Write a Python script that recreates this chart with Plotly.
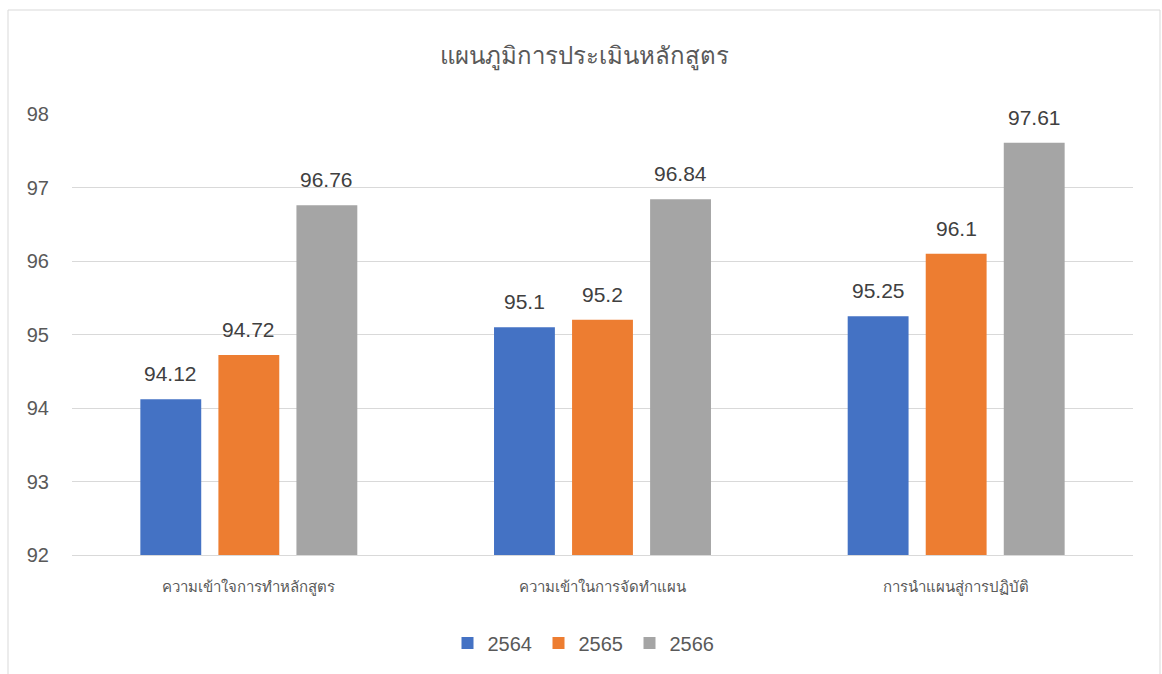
import plotly.graph_objects as go

title = "แผนภูมิการประเมินหลักสูตร"
categories = ["ความเข้าใจการทำหลักสูตร", "ความเข้าในการจัดทำแผน", "การนำแผนสู่การปฏิบัติ"]
series_names = ["2564", "2565", "2566"]
values_2564 = [94.12, 95.1, 95.25]
values_2565 = [94.72, 95.2, 96.1]
values_2566 = [96.76, 96.84, 97.61]
colors = ["#4472C4", "#ED7D31", "#A5A5A5"]
y_ticks = [92, 93, 94, 95, 96, 97, 98]

W, H = 1162, 674
ml, mr, mt, mb = 72, 29, 114, 119
pw, ph = W - ml - mr, H - mt - mb
slot_px = 78  # horizontal distance between bars inside a group

fig = go.Figure()
all_series = [values_2564, values_2565, values_2566]
for name, vals, col in zip(series_names, all_series, colors):
    fig.add_trace(go.Bar(
        x=categories, y=vals, name=name, marker_color=col,
        marker_line_width=0,
    ))

# data labels
for i, vals in enumerate(all_series):
    for cat, v in zip(categories, vals):
        fig.add_annotation(x=cat, y=v, text=str(v), showarrow=False,
                           xshift=(i - 1) * slot_px, yanchor="bottom", yshift=12,
                           font=dict(size=21, color="#404040", family="Liberation Sans, Arial"))

fig.add_shape(type="rect", xref="paper", yref="paper",
              x0=(8 - ml) / pw, x1=(1160 - ml) / pw,
              y0=(H - mb - 690) / ph, y1=(H - mb - 10) / ph,
              line=dict(color="#D9D9D9", width=1), fillcolor="rgba(0,0,0,0)", layer="below")

fig.update_layout(
    width=W, height=H,
    margin=dict(l=ml, r=mr, t=mt, b=mb),
    paper_bgcolor="white", plot_bgcolor="white",
    title=dict(text=title, x=(584 - ml) / pw, xref="paper", xanchor="center",
               y=(H - 56) / H, yanchor="middle",
               font=dict(size=24, color="#595959", family="Noto Sans, sans-serif")),
    barmode="group", bargap=0.338, bargroupgap=0.22,
    showlegend=True,
    legend=dict(orientation="h", x=(584 - ml) / pw, xanchor="center",
                y=-(643 - (H - mb)) / ph, yanchor="middle",
                font=dict(size=20, color="#595959", family="Liberation Sans, Arial"),
                itemwidth=30, traceorder="normal", entrywidth=46, entrywidthmode="pixels"),
    font=dict(family="Noto Sans, sans-serif"),
)
fig.update_yaxes(range=[92, 98], tickvals=y_ticks, showgrid=True, gridcolor="#D9D9D9",
                 gridwidth=1, zeroline=False, showline=False,
                 tickfont=dict(size=20, color="#595959", family="Liberation Sans, Arial"),
                 ticks="", ticklabelstandoff=22)
fig.update_xaxes(showline=True, linecolor="#D9D9D9", linewidth=1, ticks="",
                 tickfont=dict(size=15, color="#595959"), ticklabelstandoff=18)

fig.write_html("out.html", config={"displayModeBar": False},
               post_script="document.body.style.margin='0';")
